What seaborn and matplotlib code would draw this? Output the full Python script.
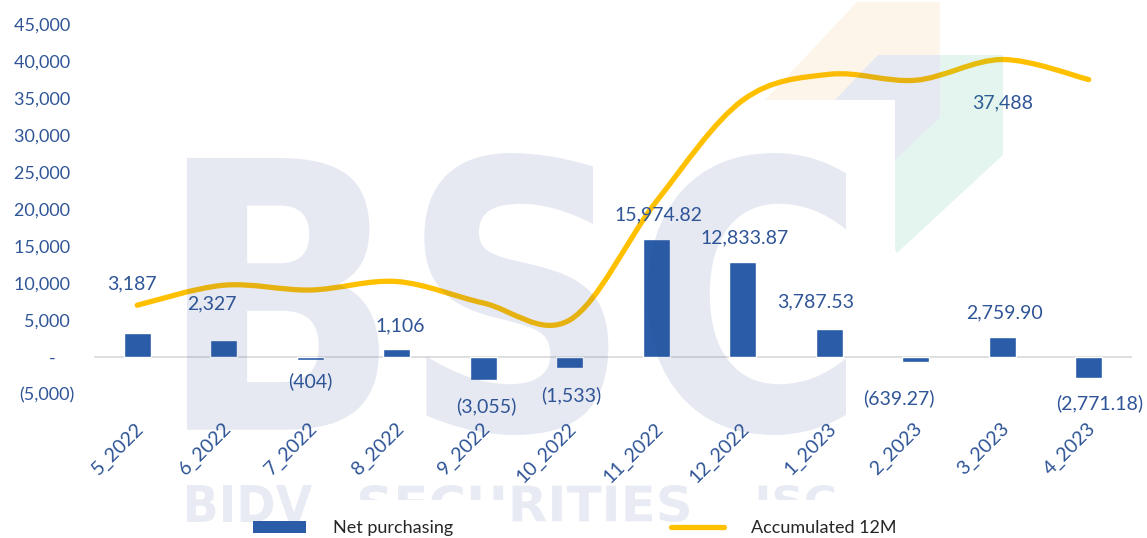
import numpy as np
import pandas as pd
import matplotlib
matplotlib.use("Agg")
import matplotlib.pyplot as plt
import seaborn as sns
from matplotlib.path import Path
from matplotlib.patches import PathPatch, Polygon, Rectangle
from matplotlib.textpath import TextPath
from matplotlib.font_manager import FontProperties
from matplotlib.lines import Line2D
from matplotlib.ticker import FuncFormatter
from matplotlib.transforms import ScaledTranslation

# ---------------- data ----------------
categories = ["5_2022", "6_2022", "7_2022", "8_2022", "9_2022", "10_2022",
              "11_2022", "12_2022", "1_2023", "2_2023", "3_2023", "4_2023"]
net_purchasing = [3187, 2327, -404, 1106, -3055, -1533,
                  15974.82, 12833.87, 3787.53, -639.27, 2759.90, -2771.18]
net_labels = ["3,187", "2,327", "(404)", "1,106", "(3,055)", "(1,533)",
              "15,974.82", "12,833.87", "3,787.53", "(639.27)", "2,759.90", "(2,771.18)"]
accumulated_12m = [7000, 9700, 9050, 10200, 7300, 5000,
                   21000, 34700, 38200, 37400, 40200, 37488]
accumulated_label = "37,488"
y_ticks = list(range(-5000, 45001, 5000))
series_names = ["Net purchasing", "Accumulated 12M"]

# ---------------- style ----------------
W, H, DPI = 1147, 538, 100
BAR_BLUE = "#2B5CA8"
TEXT_BLUE = "#2F5597"
YELLOW = "#FFC000"

# label offsets in pixels (dx, dy) relative to bar end
label_dx = [-5, -12, 0, 3, 3, 2, 2, 2, -14, -17, 2, 11]
label_dy = [50, 36, -21, 23, -27, -27, 24, 24, 27, -36, 24, -26]

sns.set_theme(style="white")
plt.rcParams["font.family"] = ["Lato", "DejaVu Sans"]

fig = plt.figure(figsize=(W / DPI, H / DPI), dpi=DPI)
fig.patch.set_facecolor("white")
ax = fig.add_axes([94 / W, 1 - 394 / H, (1132 - 94) / W, (394 - 24) / H])
ax.patch.set_alpha(0)

df = pd.DataFrame({"month": categories, "net": net_purchasing})
sns.barplot(data=df, x="month", y="net", order=categories, color=BAR_BLUE,
            saturation=1, width=0.31, ax=ax, zorder=2)

ax.set_xlim(-0.5, len(categories) - 0.5)
ax.set_ylim(y_ticks[0], y_ticks[-1])
ax.axhline(0, color="#D9D9D9", lw=1.2, zorder=1)

# smooth accumulated line (Excel-like cubic bezier smoothing)
P = np.column_stack([np.arange(len(accumulated_12m), dtype=float),
                     np.array(accumulated_12m, dtype=float)])
verts = [tuple(P[0])]
codes = [Path.MOVETO]
n = len(P)
for i in range(n - 1):
    p0 = P[i - 1] if i > 0 else P[i]
    p3 = P[i + 2] if i + 2 < n else P[i + 1]
    c1 = P[i] + (P[i + 1] - p0) / 6.0
    c2 = P[i + 1] - (p3 - P[i]) / 6.0
    verts += [tuple(c1), tuple(c2), tuple(P[i + 1])]
    codes += [Path.CURVE4] * 3
line_patch = PathPatch(Path(verts, codes), fill=False, edgecolor=YELLOW,
                       lw=3.8, capstyle="round", joinstyle="round", zorder=3)
ax.add_patch(line_patch)

# bar labels
for i, (v, lab) in enumerate(zip(net_purchasing, net_labels)):
    ax.annotate(lab, xy=(i, v), xytext=(label_dx[i], label_dy[i]),
                textcoords="offset pixels", ha="center", va="center",
                color=TEXT_BLUE, fontsize=14, zorder=4)
# line label (last point)
ax.annotate(accumulated_label, xy=(n - 1, accumulated_12m[-1]), xytext=(-86, -23),
            textcoords="offset pixels", ha="center", va="center",
            color=TEXT_BLUE, fontsize=14, zorder=4)

# axes formatting
def fmt(v, pos=None):
    v = int(round(v))
    if v == 0:
        return "-    "
    if v < 0:
        return "({:,})".format(-v)
    return "{:,} ".format(v)

ax.set_yticks(y_ticks)
ax.yaxis.set_major_formatter(FuncFormatter(fmt))
ax.tick_params(axis="y", length=0, pad=14, labelsize=13, labelcolor=TEXT_BLUE)
ax.tick_params(axis="x", length=0, pad=23, labelsize=14, labelcolor=TEXT_BLUE)
ax.set_xlabel("")
ax.set_ylabel("")
shift = ScaledTranslation(4 / DPI, 0, fig.dpi_scale_trans)
for lbl in ax.get_xticklabels():
    lbl.set_rotation(45)
    lbl.set_ha("right")
    lbl.set_va("center")
    lbl.set_rotation_mode("anchor")
    lbl.set_transform(lbl.get_transform() + shift)
for s in ax.spines.values():
    s.set_visible(False)

# ---------------- watermark (semi-transparent overlay) ----------------
def px_poly(points, color, alpha, z=5):
    pts = [(x / W, 1 - y / H) for x, y in points]
    p = Polygon(pts, closed=True, transform=fig.transFigure, facecolor=color,
                edgecolor="none", alpha=alpha, zorder=z)
    fig.add_artist(p)

def text_in_box(s, x0, y0, x1, y1, color, alpha, weight="bold"):
    tp = TextPath((0, 0), s, size=100, prop=FontProperties(family="DejaVu Sans", weight=weight))
    v = tp.vertices.copy()
    bb = tp.get_extents()
    v[:, 0] = x0 + (v[:, 0] - bb.x0) / bb.width * (x1 - x0)
    v[:, 1] = y1 - (v[:, 1] - bb.y0) / bb.height * (y1 - y0)
    v[:, 0] /= W
    v[:, 1] = 1 - v[:, 1] / H
    patch = PathPatch(Path(v, tp.codes), transform=fig.transFigure, facecolor=color,
                      edgecolor="none", alpha=alpha, zorder=5)
    fig.add_artist(patch)

WM_BLUE = (50 / 255, 80 / 255, 150 / 255)
text_in_box("BSC", 187, 153, 846, 435, WM_BLUE, 0.12)
text_in_box("BIDV", 187, 485, 312, 522, WM_BLUE, 0.11)
text_in_box("SECURITIES", 360, 485, 689, 522, WM_BLUE, 0.11)
text_in_box("JSC", 752, 485, 834, 522, WM_BLUE, 0.11)

px_poly([(765, 100), (857, 2), (940, 2), (940, 55), (878, 55), (835, 100)],
        (240 / 255, 160 / 255, 40 / 255), 0.10)
px_poly([(835, 100), (878, 55), (940, 55), (940, 117), (895, 160), (895, 100)],
        WM_BLUE, 0.12)
px_poly([(940, 55), (1003, 55), (1003, 155), (897, 253), (895, 250), (895, 160), (940, 117)],
        (40 / 255, 170 / 255, 120 / 255), 0.12)

# white legend-entry backgrounds hiding the lower part of the watermark text
px_poly([(355, 500), (505, 500), (505, 538), (355, 538)], "white", 1.0, z=5.5)
px_poly([(745, 500), (905, 500), (905, 538), (745, 538)], "white", 1.0, z=5.5)

# ---------------- legend ----------------
handles = [Rectangle((0, 0), 1, 1, facecolor=BAR_BLUE, edgecolor="none"),
           Line2D([0], [0], color=YELLOW, lw=3.8, solid_capstyle="round")]
leg = fig.legend(handles, series_names, loc="center", bbox_to_anchor=(0.501, 0.018),
                 ncol=2, frameon=False, fontsize=13, handlelength=2.9, handletextpad=1.5,
                 columnspacing=12.1, borderpad=0.2)
leg.set_zorder(6)

fig.savefig("out.png", dpi=DPI, facecolor="white")
